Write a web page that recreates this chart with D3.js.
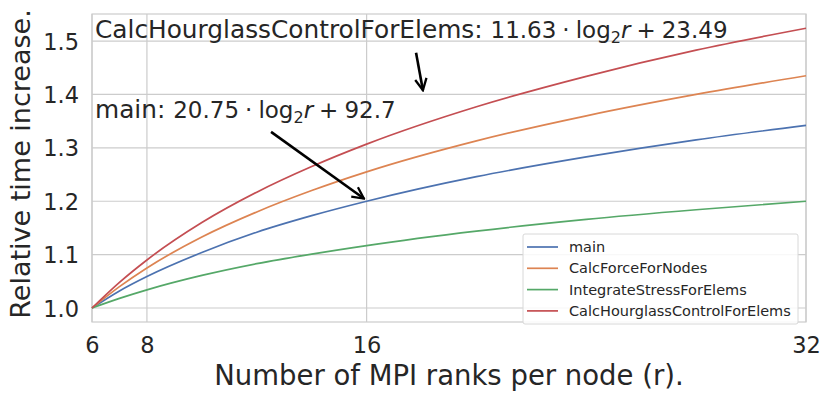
<!DOCTYPE html>
<html>
<head>
<meta charset="utf-8">
<script src="https://cdn.jsdelivr.net/npm/d3@7"></script>
<style>
  body { margin: 0; background: #fff; }
  svg { font-family: "DejaVu Sans", sans-serif; }
</style>
</head>
<body>
<svg></svg>
<script>
// ranks per node
let ranks = [6, 7, 8, 10, 12, 14, 16, 20, 24, 28, 32];
let mainVals = [1.0, 1.032, 1.059, 1.104, 1.142, 1.173, 1.2, 1.246, 1.283, 1.315, 1.342];
let forceVals = [1.0, 1.04, 1.075, 1.133, 1.18, 1.22, 1.255, 1.313, 1.36, 1.4, 1.435];
let stressVals = [1.0, 1.018, 1.034, 1.061, 1.083, 1.101, 1.117, 1.144, 1.166, 1.184, 1.2];
let hourglassVals = [1.0, 1.048, 1.09, 1.16, 1.217, 1.265, 1.307, 1.377, 1.434, 1.483, 1.524];

let seriesNames = ["main", "CalcForceForNodes", "IntegrateStressForElems", "CalcHourglassControlForElems"];
let seriesVals = [mainVals, forceVals, stressVals, hourglassVals];
let colors = ["#4c72b0", "#dd8452", "#55a868", "#c44e52"];

let xTicks = [6, 8, 16, 32];
let yTicks = [1.0, 1.1, 1.2, 1.3, 1.4, 1.5];

let width = 831;
let height = 399;
let plotLeft = 92, plotRight = 806, plotTop = 14, plotBottom = 322;

let svg = d3.select("svg").attr("width", width).attr("height", height);

let xScale = d3.scaleLinear().domain([6, 32]).range([plotLeft, plotRight]);
let yScale = d3.scaleLinear().domain([0.9738, 1.5507]).range([plotBottom, plotTop]);

const gridColor = "#cccccc";

// grid
svg.append("g")
  .selectAll("line")
  .data(yTicks)
  .enter()
  .append("line")
  .attr("x1", plotLeft).attr("x2", plotRight)
  .attr("y1", (d) => yScale(d)).attr("y2", (d) => yScale(d))
  .attr("stroke", gridColor).attr("stroke-width", 1.2);

svg.append("g")
  .selectAll("line")
  .data(xTicks)
  .enter()
  .append("line")
  .attr("x1", (d) => xScale(d)).attr("x2", (d) => xScale(d))
  .attr("y1", plotTop).attr("y2", plotBottom)
  .attr("stroke", gridColor).attr("stroke-width", 1.2);

// frame
svg.append("rect")
  .attr("x", plotLeft).attr("y", plotTop)
  .attr("width", plotRight - plotLeft).attr("height", plotBottom - plotTop)
  .attr("fill", "none").attr("stroke", gridColor).attr("stroke-width", 1.2);

// axes (labels only, seaborn whitegrid style)
let xAxis = d3.axisBottom(xScale).tickValues(xTicks).tickFormat(d3.format("d")).tickSize(0);
let yAxis = d3.axisLeft(yScale).tickValues(yTicks).tickFormat(d3.format(".1f")).tickSize(0).tickPadding(13);

let gx = svg.append("g").attr("transform", `translate(0, ${plotBottom})`).call(xAxis);
let gy = svg.append("g").attr("transform", `translate(${plotLeft}, 0)`).call(yAxis);
[gx, gy].forEach((g) => {
  g.select(".domain").remove();
  g.selectAll("text").attr("font-family", "DejaVu Sans").attr("font-size", 22.5).attr("fill", "#262626");
});
gx.selectAll("text").attr("y", 31).attr("dy", 0);
gy.selectAll("text").attr("dy", "0.36em");

svg.append("text")
  .attr("x", (plotLeft + plotRight) / 2)
  .attr("y", 385)
  .attr("text-anchor", "middle")
  .attr("font-size", 27.5)
  .attr("fill", "#262626")
  .text("Number of MPI ranks per node (r).");

svg.append("text")
  .attr("transform", `translate(30, 164) rotate(-90)`)
  .attr("text-anchor", "middle")
  .attr("font-size", 27)
  .attr("fill", "#262626")
  .text("Relative time increase.");

// curves
let line = d3.line()
  .x((d) => xScale(d[0]))
  .y((d) => yScale(d[1]))
  .curve(d3.curveMonotoneX);

seriesVals.forEach((vals, i) => {
  svg.append("path")
    .datum(ranks.map((r, j) => [r, vals[j]]))
    .attr("d", line)
    .attr("fill", "none")
    .attr("stroke", colors[i])
    .attr("stroke-width", 1.7);
});

// annotations
const addFormula = (x, y, name, a, b) => {
  let t = svg.append("text")
    .attr("x", x).attr("y", y)
    .attr("font-size", 23)
    .attr("fill", "#262626");
  t.append("tspan").attr("font-size", 24.8).text(`${name}: `);
  t.append("tspan").text(a);
  t.append("tspan").attr("dx", 6).text("\u00b7");
  t.append("tspan").attr("dx", 6).text("log");
  t.append("tspan").attr("font-size", 16).attr("dy", 5).text("2");
  t.append("tspan").attr("dy", -5).attr("font-style", "italic").text("r");
  t.append("tspan").attr("dx", 6).text("+");
  t.append("tspan").attr("dx", 6).text(b);
};
addFormula(95, 38, "CalcHourglassControlForElems", "11.63", "23.49");
addFormula(95, 118, "main", "20.75", "92.7");

svg.append("defs").append("marker")
  .attr("id", "arrow")
  .attr("viewBox", "0 0 10 10")
  .attr("refX", 9).attr("refY", 5)
  .attr("markerWidth", 5.5).attr("markerHeight", 5.5)
  .attr("orient", "auto")
  .append("path")
  .attr("d", "M1,1 L9,5 L1,9")
  .attr("fill", "none")
  .attr("stroke", "#000")
  .attr("stroke-width", 1.6);

const addArrow = (r1, v1, r2, v2) => {
  svg.append("line")
    .attr("x1", xScale(r1)).attr("y1", yScale(v1))
    .attr("x2", xScale(r2)).attr("y2", yScale(v2))
    .attr("stroke", "#000")
    .attr("stroke-width", 2.6)
    .attr("marker-end", "url(#arrow)");
};
addArrow(17.8, 1.478, 18.05, 1.408);
addArrow(12.52, 1.33, 15.9, 1.205);

// legend
let legend = svg.append("g").attr("transform", "translate(523, 234)");
legend.append("rect")
  .attr("width", 275).attr("height", 90)
  .attr("rx", 2)
  .attr("fill", "#fff").attr("fill-opacity", 0.85)
  .attr("stroke", "#d8d8d8").attr("stroke-width", 1);

seriesNames.forEach((name, i) => {
  let row = legend.append("g").attr("transform", `translate(0, ${13 + i * 21.3})`);
  row.append("line")
    .attr("x1", 4).attr("x2", 35)
    .attr("stroke", colors[i]).attr("stroke-width", 1.7);
  row.append("text")
    .attr("x", 46).attr("dy", "0.35em")
    .attr("font-size", 14.5)
    .attr("fill", "#262626")
    .text(name);
});
</script>
</body>
</html>
